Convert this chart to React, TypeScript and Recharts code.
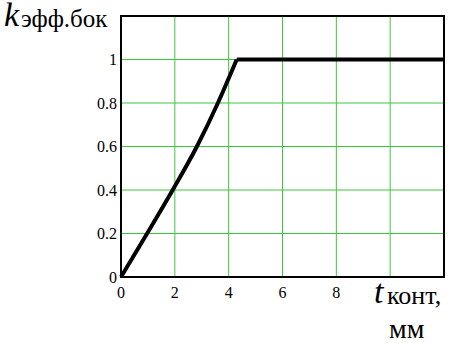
import React from 'react';
import {
  LineChart,
  Line,
  XAxis,
  YAxis,
  CartesianGrid,
  ReferenceArea,
  Label,
} from 'recharts';

// contact thickness, mm (rising part)
const tRise = [0, 0.97, 1.92, 2.82, 3.6, 4.3];
// effective side coefficient (rising part)
const kRise = [0, 0.2, 0.4, 0.6, 0.8, 1];
// saturated part
const tFlat = [4.3, 12];
const kFlat = [1, 1];

const xTicks = [0, 2, 4, 6, 8, 10, 12];
const yTicks = [0, 0.2, 0.4, 0.6, 0.8, 1, 1.2];

const riseData = tRise.map((t, i) => ({ t, k: kRise[i] }));
const flatData = tFlat.map((t, i) => ({ t, k: kFlat[i] }));

const FONT = 'Times New Roman, Liberation Serif, Tinos, serif';
const GRID = '#3cc83c';

const yTitle = () => (
  <g>
    <text x={4} y={26} fontFamily={FONT} fontStyle="italic" fontSize={34} fill="#000">
      k
    </text>
    <text x={21} y={27} fontFamily={FONT} fontSize={25} fill="#000">
      эфф.бок
    </text>
  </g>
);

const xTitle = () => (
  <g>
    <text x={374} y={303} fontFamily={FONT} fontStyle="italic" fontSize={34} fill="#000">
      t
    </text>
    <text x={387} y={304} fontFamily={FONT} fontSize={26} fill="#000">
      конт,
    </text>
    <text x={389} y={338} fontFamily={FONT} fontSize={28} fill="#000">
      мм
    </text>
  </g>
);

export default function App() {
  return (
    <div style={{ position: 'absolute', left: 0, top: 0, width: 450, height: 343, background: '#fff', fontFamily: FONT }}>
      <LineChart
        width={450}
        height={343}
        margin={{ top: 16, right: 6, left: 0, bottom: 0 }}
      >
        <CartesianGrid stroke={GRID} strokeWidth={1} />
        <XAxis
          dataKey="t"
          type="number"
          domain={[0, 12]}
          ticks={xTicks}
          allowDuplicatedCategory={false}
          tickFormatter={(v: number) => (v >= 10 ? '' : String(v))}
          axisLine={false}
          tickLine={false}
          tickSize={0}
          tickMargin={10}
          height={66}
          tick={{ fill: '#000', fontSize: 16, fontFamily: FONT }}
        >
          <Label content={xTitle} />
        </XAxis>
        <YAxis
          type="number"
          domain={[0, 1.2]}
          ticks={yTicks}
          tickFormatter={(v: number) => (v > 1.1 ? '' : String(v))}
          axisLine={false}
          tickLine={false}
          tickSize={0}
          tickMargin={4}
          width={121}
          tick={{ fill: '#000', fontSize: 16, fontFamily: FONT }}
        >
          <Label content={yTitle} />
        </YAxis>
        <ReferenceArea
          x1={0}
          x2={12}
          y1={0}
          y2={1.2}
          fill="none"
          stroke="#000"
          strokeWidth={2}
          ifOverflow="visible"
        />
        <Line
          data={riseData}
          dataKey="k"
          type="monotone"
          stroke="#000"
          strokeWidth={4}
          dot={false}
          isAnimationActive={false}
        />
        <Line
          data={flatData}
          dataKey="k"
          type="linear"
          stroke="#000"
          strokeWidth={4}
          dot={false}
          isAnimationActive={false}
        />
      </LineChart>
    </div>
  );
}
